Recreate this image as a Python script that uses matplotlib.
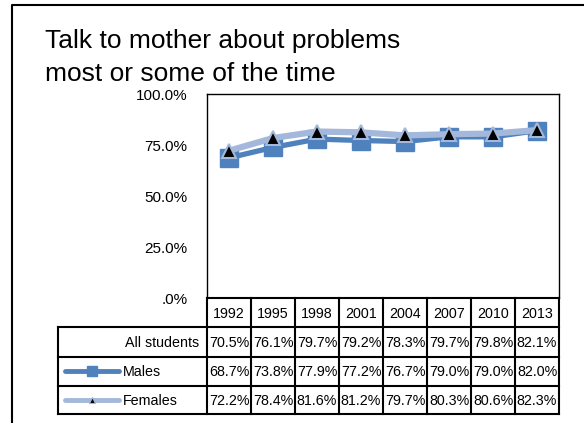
import matplotlib
matplotlib.use("Agg")
import matplotlib.pyplot as plt
from matplotlib.ticker import FuncFormatter

years = ["1992", "1995", "1998", "2001", "2004", "2007", "2010", "2013"]
all_students = [70.5, 76.1, 79.7, 79.2, 78.3, 79.7, 79.8, 82.1]
males = [68.7, 73.8, 77.9, 77.2, 76.7, 79.0, 79.0, 82.0]
females = [72.2, 78.4, 81.6, 81.2, 79.7, 80.3, 80.6, 82.3]
title_lines = ["Talk to mother about problems", "most or some of the time"]

W, H = 584, 423
MALE_C = "#4F81BD"
FEMALE_C = "#A3B8DA"
FONT = "Liberation Sans"

plt.rcParams["font.family"] = [FONT, "DejaVu Sans"]

fig = plt.figure(figsize=(W / 100, H / 100), dpi=100)

# pixel box of the plot area
px_l, px_r, px_t, px_b = 207, 559, 94, 298
ax = fig.add_axes([px_l / W, 1 - px_b / H, (px_r - px_l) / W, (px_b - px_t) / H])

x = list(range(len(years)))
ax.plot(x, males, color=MALE_C, lw=3.8, marker="s", ms=13.5,
        mfc=MALE_C, mec=MALE_C, zorder=3)
ax.plot(x, females, color=FEMALE_C, lw=4.5, marker="^", ms=10,
        mfc="black", mec=FEMALE_C, mew=1.5, zorder=4)
ax.set_xlim(-0.5, len(years) - 0.5)
ax.set_ylim(0, 100)
ax.set_yticks([0, 25, 50, 75, 100])
ax.yaxis.set_major_formatter(FuncFormatter(lambda v, p: ".0%" if v == 0 else f"{v:.1f}%"))
ax.tick_params(axis="y", length=0, pad=14, labelsize=11)
ax.set_xticks([])
for s in ax.spines.values():
    s.set_color("black")
    s.set_linewidth(1.0)
ax.spines["bottom"].set_visible(False)

# overlay in pixel coordinates for the data table and frame
ov = fig.add_axes([0, 0, 1, 1], zorder=5)
ov.set_xlim(0, W)
ov.set_ylim(H, 0)
ov.axis("off")
ov.patch.set_alpha(0)

# outer chart border (cropped at right/bottom)
ov.plot([12, 12, W + 5], [H + 5, 5, 5], color="black", lw=1.5, solid_capstyle="butt")

for line, base in zip(title_lines, [48, 81]):
    ov.text(45, base, line, fontsize=19, ha="left", va="baseline")

col_w = (px_r - px_l) / len(years)
row_y = [298, 327, 357, 386, 414]
lab_l = 58
lw_t = 1.5
tfs = 10.3

# header row (years)
ov.plot([px_l, px_r], [row_y[0], row_y[0]], color="black", lw=lw_t)
for k in range(len(years) + 1):
    xx = px_l + k * col_w
    ov.plot([xx, xx], [row_y[0], row_y[-1]], color="black", lw=lw_t)
for yy in row_y[1:]:
    ov.plot([lab_l, px_r], [yy, yy], color="black", lw=lw_t)
ov.plot([lab_l, lab_l], [row_y[1], row_y[-1]], color="black", lw=lw_t)

for i, yr in enumerate(years):
    ov.text(px_l + (i + 0.5) * col_w, (row_y[0] + row_y[1]) / 2 + 1, yr,
            fontsize=tfs, ha="center", va="center")

rows = [all_students, males, females]
for r, vals in enumerate(rows):
    yc = (row_y[r + 1] + row_y[r + 2]) / 2 + 1
    for i, v in enumerate(vals):
        ov.text(px_l + (i + 0.5) * col_w, yc, f"{v:.1f}%",
                fontsize=tfs, ha="center", va="center")

# row labels with legend keys
yc = [(row_y[r + 1] + row_y[r + 2]) / 2 for r in range(3)]
ov.text(199, yc[0] + 1, "All students", fontsize=tfs, ha="right", va="center")
ov.plot([65, 119], [yc[1], yc[1]], color=MALE_C, lw=3.5, solid_capstyle="round")
ov.plot([92], [yc[1]], marker="s", ms=7, color=MALE_C)
ov.text(123, yc[1] + 1, "Males", fontsize=tfs, ha="left", va="center")
ov.plot([65, 119], [yc[2], yc[2]], color=FEMALE_C, lw=3.5, solid_capstyle="round")
ov.plot([92], [yc[2]], marker="^", ms=5, mfc="black", mec=FEMALE_C, mew=0.8)
ov.text(123, yc[2] + 1, "Females", fontsize=tfs, ha="left", va="center")

fig.savefig("out.png", dpi=100)
